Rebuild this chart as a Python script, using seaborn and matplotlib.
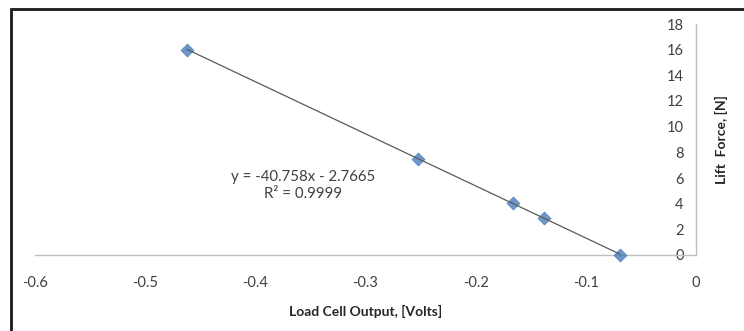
import numpy as np
import pandas as pd
import matplotlib
matplotlib.use("Agg")
import matplotlib.pyplot as plt
import seaborn as sns
from matplotlib.patches import Rectangle

# load cell calibration readings
volts = [-0.462, -0.252, -0.166, -0.138, -0.069]
lift_force = [16.0, 7.5, 4.05, 2.9, 0.0]
x_ticks = [-0.6, -0.5, -0.4, -0.3, -0.2, -0.1, 0]
y_ticks = [0, 2, 4, 6, 8, 10, 12, 14, 16, 18]
fit_text = "y = -40.758x - 2.7665\nR² = 0.9999"

df = pd.DataFrame({"volts": volts, "force": lift_force})

sns.set_style("white")
plt.rcParams["font.family"] = ["Lato", "DejaVu Sans"]
plt.rcParams["axes.unicode_minus"] = False

fig = plt.figure(figsize=(7.44, 3.31), dpi=100)
ax = fig.add_axes([35/744, 1-255/331, (696-35)/744, (255-24)/331])

sns.regplot(x="volts", y="force", data=df, ax=ax, ci=None, marker="D",
            scatter_kws={"color": "#4a7ebb", "s": 44, "edgecolor": "#4275b5", "linewidths": 0.5,
                         "zorder": 2, "clip_on": False},
            line_kws={"color": "#5a5a5a", "linewidth": 0.9, "zorder": 3})

ax.set_xlim(-0.6, 0)
ax.set_ylim(0, 18)
ax.set_xticks(x_ticks)
ax.set_xticklabels(["-0.6", "-0.5", "-0.4", "-0.3", "-0.2", "-0.1", "0"])
ax.set_yticks(y_ticks)

for s in ["top", "right"]:
    ax.spines[s].set_visible(False)
ax.spines["left"].set_position(("data", 0))
for s in ["left", "bottom"]:
    ax.spines[s].set_color("#bfbfbf")
    ax.spines[s].set_linewidth(1.0)
    ax.spines[s].set_zorder(1)
ax.tick_params(axis="both", direction="out", length=5, width=1.0, color="#bfbfbf",
               labelsize=10.5, labelcolor="#404040")
ax.tick_params(axis="x", pad=10)
ax.tick_params(axis="y", pad=4)

ax.set_xlabel("Load Cell Output, [Volts]", fontsize=10, fontweight="bold", color="#262626", labelpad=11)
ax.yaxis.set_label_position("right")
ax.set_ylabel("Lift  Force, [N]", fontsize=10, fontweight="bold", color="#262626", labelpad=14)

ax.text(-0.357, 5.4, fit_text, ha="center", va="center", fontsize=10.8,
        color="#404040", linespacing=1.3)

# outer chart frame (cropped on right and bottom)
fig.patches.append(Rectangle((11/744, -0.1), 1.2, 1-9/331+0.1, transform=fig.transFigure,
                             fill=False, edgecolor="#1a1a1a", linewidth=2))

fig.savefig("out.png", dpi=100)
